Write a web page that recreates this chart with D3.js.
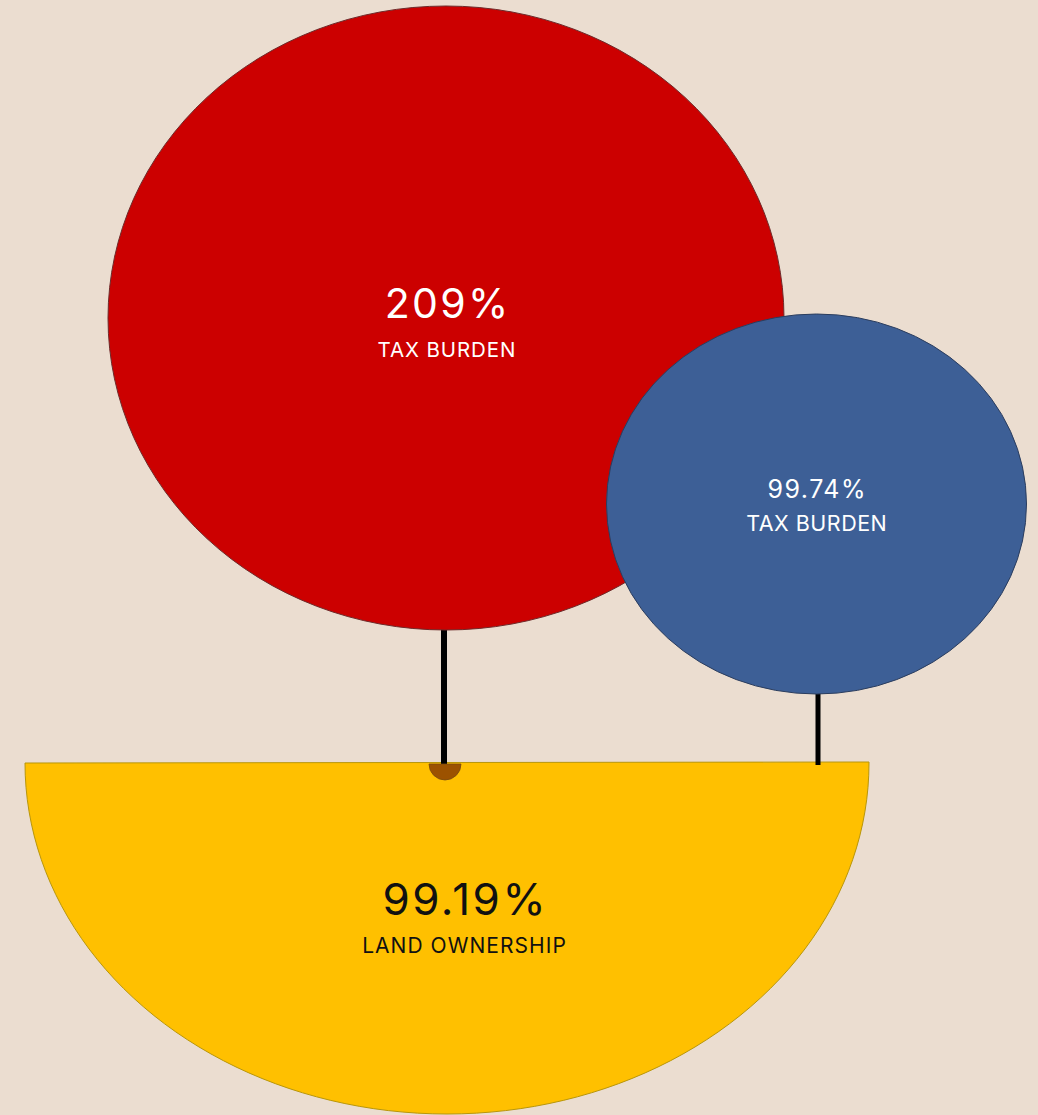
<!DOCTYPE html>
<html><head><meta charset="utf-8">
<script src="https://cdn.jsdelivr.net/npm/d3@7"></script>
<style>html,body{margin:0;padding:0;background:#EBDDD0;overflow:hidden}</style>
</head><body>
<svg id="chart" width="1038" height="1115"></svg>
<script>
const categories = ["TAX BURDEN", "TAX BURDEN", "LAND OWNERSHIP"];
const values = [209, 99.74, 99.19];
const valueLabels = ["209%", "99.74%", "99.19%"];

const colors = ["#CC0000", "#3D5F96", "#FFC000"];
const strokes = ["#6e2a2a", "#2b3d5e", "#b8960a"];
const textColors = ["#ffffff", "#ffffff", "#111111"];

// layout (positions/sizes)
const shapes = [
  {cx: 446, cy: 318, rx: 338, ry: 312, half: false, tx: 446.5, vy: 318, vs: 41, vls: 2.3, cy2: 357, cs: 20.5, cls: 0.9},
  {cx: 816.5, cy: 504, rx: 210, ry: 190, half: false, tx: 816.5, vy: 498, vs: 25, vls: 1.5, cy2: 531, cs: 21.5, cls: 0.5},
  {cx: 447, cy: 763, rx: 422, ry: 351, half: true, tx: 464, vy: 915, vs: 44, vls: 2.5, cy2: 953, cs: 21, cls: 1.05}
];

const svg = d3.select("#chart");
svg.append("rect").attr("width", 1038).attr("height", 1115).attr("fill", "#EBDDD0");

const data = values.map((v, i) => ({v, cat: categories[i], lab: valueLabels[i], ...shapes[i], i}));

const lines = [
  {x: 444, y1: 628, y2: 766, w: 6},
  {x: 818, y1: 692, y2: 765, w: 5}
];

// yellow half ellipse (bottom layer)
const half = data[2];
const pts = d3.range(0, 181, 2).map(a => {
  const t = a * Math.PI / 180;
  return [half.cx + half.rx * Math.cos(t), half.cy + half.ry * Math.sin(t)];
});
const lineGen = d3.line();
svg.append("path")
  .attr("d", "M" + (half.cx - half.rx) + "," + half.cy + "L" + (half.cx + half.rx) + "," + (half.cy - 1) + lineGen(pts).replace(/^M/, "L") + "Z")
  .attr("fill", colors[2]).attr("stroke", strokes[2]).attr("stroke-width", 1);

svg.selectAll("line.conn").data(lines).enter().append("line")
  .attr("x1", d => d.x).attr("x2", d => d.x)
  .attr("y1", d => d.y1).attr("y2", d => d.y2)
  .attr("stroke", "#000").attr("stroke-width", d => d.w);

svg.selectAll("ellipse.b").data(data.filter(d => !d.half)).enter().append("ellipse")
  .attr("cx", d => d.cx).attr("cy", d => d.cy)
  .attr("rx", d => d.rx).attr("ry", d => d.ry)
  .attr("fill", d => colors[d.i]).attr("stroke", d => strokes[d.i]).attr("stroke-width", 1);

const arc = d3.arc().innerRadius(0).outerRadius(16).startAngle(Math.PI / 2).endAngle(Math.PI * 1.5);
svg.append("path").attr("d", arc()).attr("transform", "translate(445,764)")
  .attr("fill", "#9C5200").attr("stroke", "#7a4a10").attr("stroke-width", 0.8);

const g = svg.selectAll("g.lab").data(data).enter().append("g");
g.append("text")
  .attr("x", d => d.tx + d.vls / 2).attr("y", d => d.vy)
  .attr("text-anchor", "middle")
  .attr("font-family", "Inter, Liberation Sans, Arial, sans-serif")
  .attr("font-size", d => d.vs)
  .attr("letter-spacing", d => d.vls)
  .attr("fill", d => textColors[d.i])
  .text(d => d.lab);
g.append("text")
  .attr("x", d => d.tx + d.cls / 2).attr("y", d => d.cy2)
  .attr("text-anchor", "middle")
  .attr("font-family", "Inter, Liberation Sans, Arial, sans-serif")
  .attr("font-size", d => d.cs)
  .attr("letter-spacing", d => d.cls)
  .attr("fill", d => textColors[d.i])
  .text(d => d.cat);
</script>
</body></html>
